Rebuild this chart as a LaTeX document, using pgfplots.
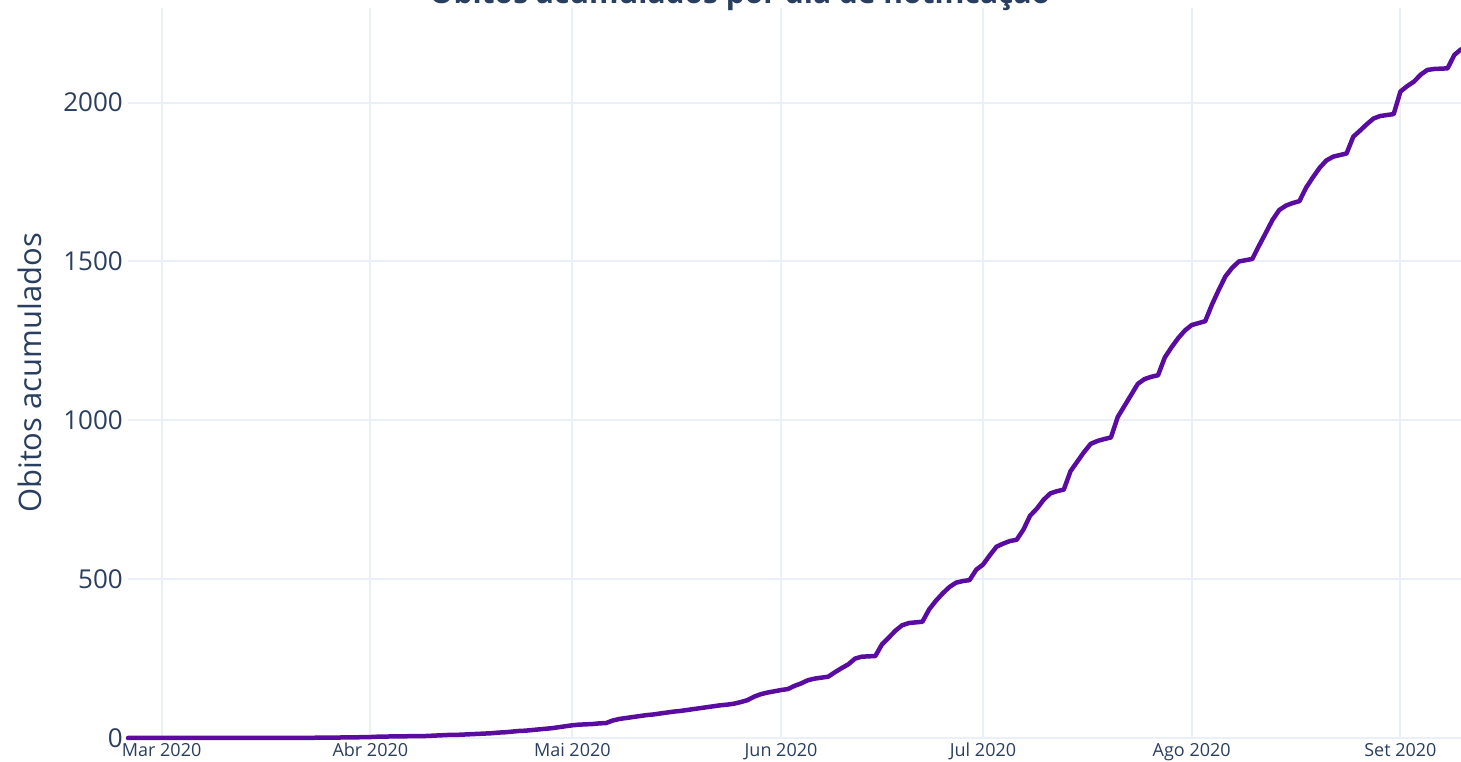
\documentclass[border=0pt]{standalone}
\usepackage{fontspec}
\setmainfont{Open Sans}
\usepackage{pgfplots}
\usepackage{pgfplotstable}
\pgfplotsset{compat=1.18}
\definecolor{txt}{HTML}{2A3F5F}
\definecolor{gridc}{HTML}{EBF0F8}
\definecolor{linec}{RGB}{90,12,160}
% d = days since 1 Mar 2020, v = cumulative deaths
\pgfplotstableread{
d v
-5 0
0 0
10 0
20 0
21 0
22 0
23 1
24 1
25 1
26 1
27 2
28 2
29 2
30 3
31 3
32 4
33 4
34 5
35 5
36 5
37 6
38 6
39 6
40 7
41 8
42 9
43 10
44 10
45 11
46 12
47 13
48 14
49 15
50 17
51 18
52 20
53 22
54 23
55 25
56 27
57 29
58 31
59 34
60 37
61 40
62 42
63 43
64 44
65 46
66 47
67 55
68 60
69 63
70 66
71 69
72 72
73 74
74 77
75 80
76 83
77 85
78 88
79 91
80 94
81 97
82 100
83 103
84 105
85 108
86 113
87 119
88 130
89 138
90 143
91 147
92 151
93 154
94 164
95 172
96 182
97 187
98 190
99 193
100 207
101 220
102 232
103 250
104 256
105 257
106 258
107 295
108 316
109 338
110 355
111 362
112 364
113 366
114 405
115 432
116 455
117 475
118 489
119 494
120 497
121 530
122 546
123 575
124 602
125 612
126 620
127 624
128 656
129 700
130 722
131 750
132 770
133 777
134 782
135 840
136 870
137 900
138 926
139 935
140 941
141 946
142 1010
143 1045
144 1080
145 1115
146 1130
147 1137
148 1142
149 1198
150 1230
151 1259
152 1283
153 1300
154 1306
155 1312
156 1364
157 1410
158 1453
159 1480
160 1500
161 1504
162 1508
163 1550
164 1590
165 1631
166 1662
167 1676
168 1684
169 1690
170 1733
171 1765
172 1795
173 1818
174 1830
175 1835
176 1840
177 1893
178 1912
179 1932
180 1950
181 1958
182 1961
183 1964
184 2035
185 2052
186 2066
187 2088
188 2103
189 2106
190 2107
191 2108
192 2150
193 2168
}\deaths
\begin{document}
\begin{tikzpicture}
\begin{axis}[
  at={(128pt,24pt)}, anchor=south west,
  width=1333pt, height=730pt, scale only axis,
  xmin=-5, xmax=193, ymin=0, ymax=2298,
  axis line style={draw=none},
  major tick length=0pt,
  grid=major,
  major grid style={draw=gridc, line width=2pt},
  xtick={0,31,61,92,122,153,184},
  xticklabels={Mar 2020,Abr 2020,Mai 2020,Jun 2020,Jul 2020,Ago 2020,Set 2020},
  ytick={0,500,1000,1500,2000},
  yticklabels={0,500,1000,1500,2000},
  xticklabel style={font=\fontsize{18}{18}\selectfont, text=txt, anchor=north, inner sep=0pt, yshift=-5pt},
  yticklabel style={font=\fontsize{26}{26}\selectfont, text=txt, anchor=east, inner sep=0pt, xshift=-5pt},
  ylabel={Obitos acumulados},
  every axis y label/.style={at={(axis description cs:0,0.5)}, xshift=-98pt, rotate=90, anchor=center, font=\fontsize{31}{31}\selectfont, text=txt},
  clip=false,
]
\addplot[linec, line width=4.5pt, line join=round, line cap=round] table[x=d, y=v] {\deaths};
\end{axis}
\node[anchor=base, text=txt, font=\fontsize{30}{30}\selectfont\bfseries, inner sep=0pt] at (740pt,758pt) {Óbitos acumulados por dia de notificação};
\pgfresetboundingbox
\path[use as bounding box] (0,0) rectangle (1461pt,762pt);
\end{tikzpicture}
\end{document}
